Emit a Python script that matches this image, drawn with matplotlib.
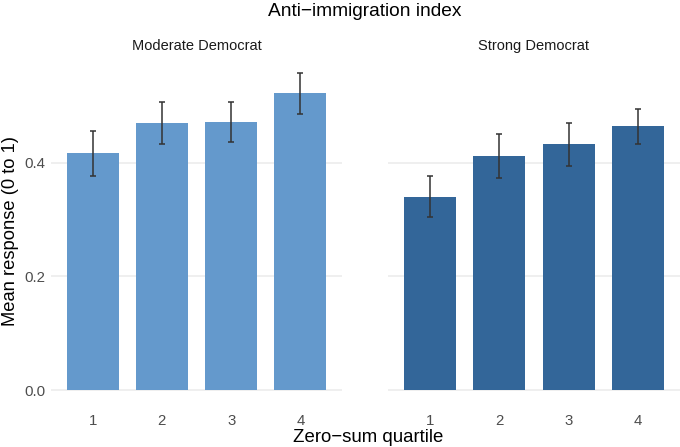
import numpy as np
import matplotlib
matplotlib.use("Agg")
import matplotlib.pyplot as plt

plt.rcParams['font.family'] = ['Liberation Sans', 'DejaVu Sans']

# data
quartiles = ["1", "2", "3", "4"]
panels = ["Moderate Democrat", "Strong Democrat"]
moderate_mean = [0.418, 0.471, 0.472, 0.523]
moderate_lo = [0.377, 0.434, 0.436, 0.487]
moderate_hi = [0.457, 0.508, 0.507, 0.559]
strong_mean = [0.340, 0.412, 0.434, 0.465]
strong_lo = [0.305, 0.374, 0.395, 0.434]
strong_hi = [0.377, 0.451, 0.471, 0.495]
yticks = [0.0, 0.2, 0.4]
ytick_labels = ["0.0", "0.2", "0.4"]

colors = ["#6499CC", "#336699"]
series = [(moderate_mean, moderate_lo, moderate_hi),
          (strong_mean, strong_lo, strong_hi)]

fig = plt.figure(figsize=(6.8, 4.47), dpi=100)
ax_left = fig.add_axes([0.075, 0.092, 0.428, 0.781])
ax_right = fig.add_axes([0.5706, 0.092, 0.429, 0.781])
axes = [ax_left, ax_right]

x = np.arange(1, len(quartiles) + 1)
ymax = max(max(moderate_hi), max(strong_hi))
pad = ymax * 0.05

for i, ax in enumerate(axes):
    mean, lo, hi = series[i]
    mean = np.array(mean)
    err = [mean - np.array(lo), np.array(hi) - mean]
    ax.bar(x, mean, width=0.75, color=colors[i], zorder=2)
    ax.errorbar(x, mean, yerr=err, fmt='none', ecolor='#333333',
                elinewidth=1.1, capsize=2.5, capthick=1.1, zorder=3)
    ax.set_xlim(0.4, 4.6)
    ax.set_ylim(-pad, ymax + pad)
    ax.set_yticks(yticks)
    ax.set_xticks(x)
    ax.set_xticklabels(quartiles)
    ax.grid(axis='y', color='#EBEBEB', linewidth=1.1, zorder=0)
    ax.grid(axis='x', visible=False)
    for s in ax.spines.values():
        s.set_visible(False)
    ax.tick_params(length=0, colors='#4D4D4D', labelsize=10.8)
    ax.tick_params(axis='x', pad=5.5)
    ax.tick_params(axis='y', pad=4)
    ax.set_title(panels[i], fontsize=10.5, color='#1A1A1A', pad=5)

ax_left.set_yticklabels(ytick_labels)
ax_right.set_yticklabels([])

fig.text(0.016, 0.484, "Mean response (0 to 1)", ha='center', va='center',
         rotation=90, fontsize=13.2)
fig.text(0.541, 0.022, "Zero\u2212sum quartile", ha='center', va='center', fontsize=13.4)
fig.text(0.537, 0.975, "Anti\u2212immigration index", ha='center', va='center', fontsize=13.8)

fig.savefig("out.png", dpi=100)
